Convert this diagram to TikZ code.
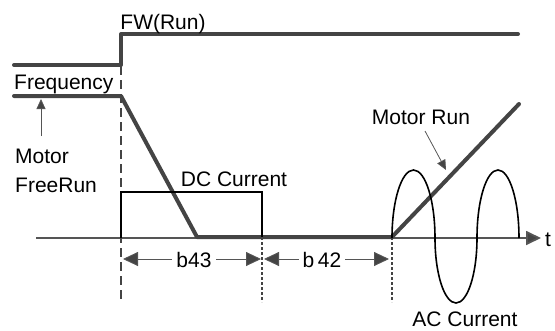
\documentclass[tikz,border=0pt]{standalone}
\usepackage{fontspec}
\setmainfont{Liberation Sans}
\usetikzlibrary{arrows.meta}
\definecolor{dk}{HTML}{444444}
\definecolor{ax}{HTML}{555555}
\begin{document}
\begin{tikzpicture}[x=1pt,y=-1pt,
  lbl/.style={inner sep=0pt,font=\fontsize{21}{25}\selectfont},
  thickln/.style={draw=dk,line width=4pt,line cap=round,line join=round},
  thinblk/.style={draw=black,line width=1.6pt},
  dimarrow/.style={draw=ax,line width=0.9pt,{Triangle[length=15pt,width=14pt,fill=dk]}-{Triangle[length=15pt,width=14pt,fill=dk]}},
  ptr/.style={draw=ax,line width=0.8pt,-{Triangle[length=10pt,width=9pt,fill=dk]}},
  guide/.style={draw=dk,line width=1.6pt,dash pattern=on 9pt off 5pt},
  guide2/.style={draw=dk,line width=1.4pt,dash pattern=on 3pt off 2pt}]
\useasboundingbox (0,0) rectangle (555,330);
% coordinates
\coordinate (fwL) at (14,65);
\coordinate (fwS) at (121,65);
\coordinate (fwT) at (121,34);
\coordinate (fwR) at (518,34);
\coordinate (frL) at (14,96);
\coordinate (frS) at (121,96);
\coordinate (fr0) at (197,237);
\coordinate (dcE) at (262,237);
\coordinate (acS) at (392,237);
\coordinate (mrE) at (519,104);
\coordinate (axL) at (36,238);
\coordinate (axR) at (541,238);
% FW(Run) signal
\draw[thickln] (fwL) -- (fwS) -- (fwT) -- (fwR);
% axis
\draw[draw=ax,line width=1.8pt,-{Triangle[length=15pt,width=14pt,fill=dk]}] (axL) -- (axR);
% frequency
\draw[thickln] (frL) -- (frS) -- (fr0) -- (acS) -- (mrE);
% guides
\draw[guide] (121,66) -- (121,302);
\draw[guide2] (dcE) -- (262,302);
\draw[guide2] (acS) -- (392,302);
% DC current
\draw[thinblk] (121,238) -- (121,192) -- (262,192) -- (dcE);
% AC current
\coordinate (ac0) at (392,238);
\draw[thinblk,line join=round] (ac0)
  arc[start angle=180,end angle=0,x radius=21.5pt,y radius=68pt]
  arc[start angle=180,end angle=360,x radius=21pt,y radius=65pt]
  arc[start angle=180,end angle=0,x radius=21pt,y radius=68pt];
% labels
\node[lbl,anchor=base] (fw) at (163,29) {FW(Run)};
\node[lbl,anchor=base west] (freq) at (14,89) {Frequency};
\node[lbl,anchor=base west] (mot) at (15,163) {Motor};
\node[lbl,anchor=base west] (fr) at (15,192) {FreeRun};
\node[lbl,anchor=base] (dc) at (234,186) {DC Current};
\node[lbl,anchor=base] (mr) at (421,124) {Motor Run};
\node[lbl,anchor=base] (ac) at (465,326.5) {AC Current};
\node[lbl,anchor=base] (t) at (548,246) {t};
% pointers
\coordinate (mtip) at (41,99);
\draw[ptr] (41,136) -- (mtip);
\coordinate (mrtip) at (446,170);
\draw[ptr] (425,131) -- (mrtip);
% dimensions
\coordinate (d1a) at (123,259);
\coordinate (d1b) at (261,259);
\coordinate (d2a) at (264,259);
\coordinate (d2b) at (389,259);
\draw[dimarrow] (d1a) -- (d1b);
\draw[dimarrow] (d2a) -- (d2b);
\node[lbl,anchor=base,fill=white,inner xsep=4pt] (b43) at (194,267) {b43};
\node[lbl,anchor=base,fill=white,inner xsep=4pt] (b42) at (322,267) {b\,42};
\end{tikzpicture}
\end{document}
